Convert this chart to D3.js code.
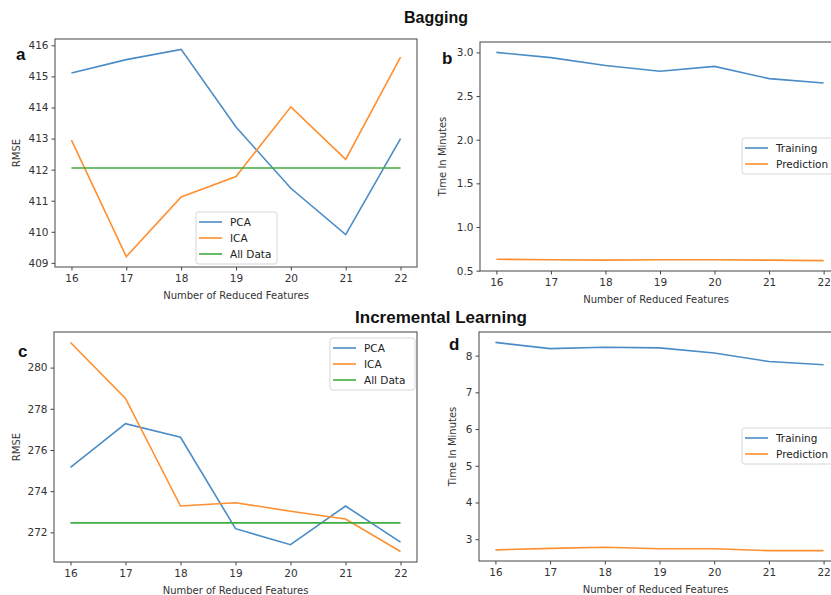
<!DOCTYPE html>
<html>
<head>
<meta charset="utf-8">
<script src="https://cdn.jsdelivr.net/npm/d3@7"></script>
<style>
body { margin: 0; background: #fff; }
svg { display: block; font-family: "DejaVu Sans", sans-serif; }
</style>
</head>
<body>
<script>
var features = [16, 17, 18, 19, 20, 21, 22];

// Bagging
var bagPCA = [415.11, 415.54, 415.87, 413.37, 411.4, 409.91, 413.0];
var bagICA = [412.95, 409.2, 411.12, 411.78, 414.02, 412.33, 415.62];
var bagAll = [412.05, 412.05, 412.05, 412.05, 412.05, 412.05, 412.05];
var bagTrain = [3.0, 2.94, 2.85, 2.785, 2.84, 2.70, 2.65];
var bagPred = [0.63, 0.625, 0.62, 0.625, 0.625, 0.62, 0.615];

// Incremental learning
var incPCA = [275.15, 277.28, 276.62, 272.18, 271.4, 273.28, 271.53];
var incICA = [281.22, 278.5, 273.28, 273.44, 273.03, 272.65, 271.07];
var incAll = [272.46, 272.46, 272.46, 272.46, 272.46, 272.46, 272.46];
var incTrain = [8.36, 8.19, 8.23, 8.21, 8.07, 7.84, 7.75];
var incPred = [2.71, 2.75, 2.78, 2.74, 2.74, 2.69, 2.69];

var rmseTicksA = [409, 410, 411, 412, 413, 414, 415, 416];
var timeTicksB = [0.5, 1.0, 1.5, 2.0, 2.5, 3.0];
var rmseTicksC = [272, 274, 276, 278, 280];
var timeTicksD = [3, 4, 5, 6, 7, 8];

var blue = "#4a8cc6", orange = "#ff8f30", green = "#40ab40";

var svg = d3.select("body").append("svg").attr("width", 831).attr("height", 595);

function panel(opt) {
  var g = svg.append("g");
  var all = [].concat.apply([], opt.series.map(function(s){ return s.values; }));
  var ext = d3.extent(all);
  var pad = (ext[1] - ext[0]) * 0.05;
  var x = d3.scaleLinear().domain([15.7, 22.3]).range([opt.left, opt.right]);
  var y = d3.scaleLinear().domain([ext[0] - pad, ext[1] + pad]).range([opt.bottom, opt.top]);

  var line = d3.line().x(function(d, i){ return x(features[i]); }).y(function(d){ return y(d); });
  opt.series.forEach(function(s){
    g.append("path").attr("d", line(s.values)).attr("fill", "none")
      .attr("stroke", s.color).attr("stroke-width", 1.6);
  });

  var xa = g.append("g").attr("transform", "translate(0," + opt.bottom + ")")
    .call(d3.axisBottom(x).tickValues(features).tickSize(3.5).tickPadding(4).tickFormat(d3.format("d")));
  var ya = g.append("g").attr("transform", "translate(" + opt.left + ",0)")
    .call(d3.axisLeft(y).tickValues(opt.ticks).tickSize(3.5).tickPadding(3).tickFormat(d3.format(opt.fmt)));
  [xa, ya].forEach(function(a){
    a.select(".domain").remove();
    a.selectAll("line").attr("stroke", "#444");
    a.selectAll("text").attr("fill", "#333").style("font-size", "10.5px").style("font-family", "DejaVu Sans");
  });

  g.append("rect").attr("x", opt.left).attr("y", opt.top)
    .attr("width", opt.right - opt.left).attr("height", opt.bottom - opt.top)
    .attr("fill", "none").attr("stroke", "#444").attr("stroke-width", 1);

  g.append("text").attr("x", (opt.left + opt.right) / 2 - (opt.right > 831 ? 4 : 0)).attr("y", opt.bottom + 32)
    .attr("text-anchor", "middle").attr("fill", "#333").style("font-size", "10px")
    .text("Number of Reduced Features");
  g.append("text").attr("transform", "translate(" + opt.ylabX + "," + ((opt.top + opt.bottom) / 2) + ") rotate(-90)")
    .attr("text-anchor", "middle").attr("dy", "0.35em").attr("fill", "#333").style("font-size", "10px")
    .text(opt.ylabel);

  // legend
  var L = opt.legend;
  g.append("rect").attr("x", L.x).attr("y", L.y).attr("width", L.w).attr("height", opt.series.length * 16 + 4)
    .attr("rx", 2.5).attr("fill", "#fff").attr("fill-opacity", 0.85)
    .attr("stroke", "#d6d6d6").attr("stroke-width", 1);
  opt.series.forEach(function(s, i){
    var yy = L.y + 10 + i * 16;
    g.append("line").attr("x1", L.x + 3).attr("x2", L.x + 26).attr("y1", yy).attr("y2", yy)
      .attr("stroke", s.color).attr("stroke-width", 1.6);
    g.append("text").attr("x", L.x + 34).attr("y", yy).attr("dy", "0.35em")
      .attr("fill", "#222").style("font-size", "10.5px").text(s.name);
  });

  svg.append("text").attr("x", opt.letter[0]).attr("y", opt.letter[1])
    .style("font-family", "Liberation Sans, Arial, sans-serif").style("font-weight", "bold")
    .style("font-size", "17px").attr("fill", "#111").text(opt.letterText);
}

panel({ left: 55, right: 417, top: 39, bottom: 267, ticks: rmseTicksA, fmt: "d", ylabel: "RMSE", ylabX: 16,
  series: [{name: "PCA", values: bagPCA, color: blue}, {name: "ICA", values: bagICA, color: orange}, {name: "All Data", values: bagAll, color: green}],
  legend: {x: 196, y: 212, w: 81}, letter: [16, 60], letterText: "a" });

panel({ left: 480, right: 840, top: 42, bottom: 271, ticks: timeTicksB, fmt: ".1f", ylabel: "Time In Minutes", ylabX: 442,
  series: [{name: "Training", values: bagTrain, color: blue}, {name: "Prediction", values: bagPred, color: orange}],
  legend: {x: 742, y: 138, w: 95}, letter: [442, 64], letterText: "b" });

panel({ left: 54, right: 417, top: 332, bottom: 562, ticks: rmseTicksC, fmt: "d", ylabel: "RMSE", ylabX: 16,
  series: [{name: "PCA", values: incPCA, color: blue}, {name: "ICA", values: incICA, color: orange}, {name: "All Data", values: incAll, color: green}],
  legend: {x: 330, y: 338, w: 85}, letter: [18, 357], letterText: "c" });

panel({ left: 479, right: 840, top: 332, bottom: 561, ticks: timeTicksD, fmt: "d", ylabel: "Time In Minutes", ylabX: 452,
  series: [{name: "Training", values: incTrain, color: blue}, {name: "Prediction", values: incPred, color: orange}],
  legend: {x: 742, y: 428, w: 95}, letter: [449, 350], letterText: "d" });

svg.append("text").attr("x", 436).attr("y", 23).attr("text-anchor", "middle")
  .style("font-family", "Liberation Sans, Arial, sans-serif").style("font-weight", "bold")
  .style("font-size", "16px").attr("fill", "#111").text("Bagging");
svg.append("text").attr("x", 441).attr("y", 323).attr("text-anchor", "middle")
  .style("font-family", "Liberation Sans, Arial, sans-serif").style("font-weight", "bold")
  .style("font-size", "17px").attr("fill", "#111").text("Incremental Learning");
</script>
</body>
</html>
